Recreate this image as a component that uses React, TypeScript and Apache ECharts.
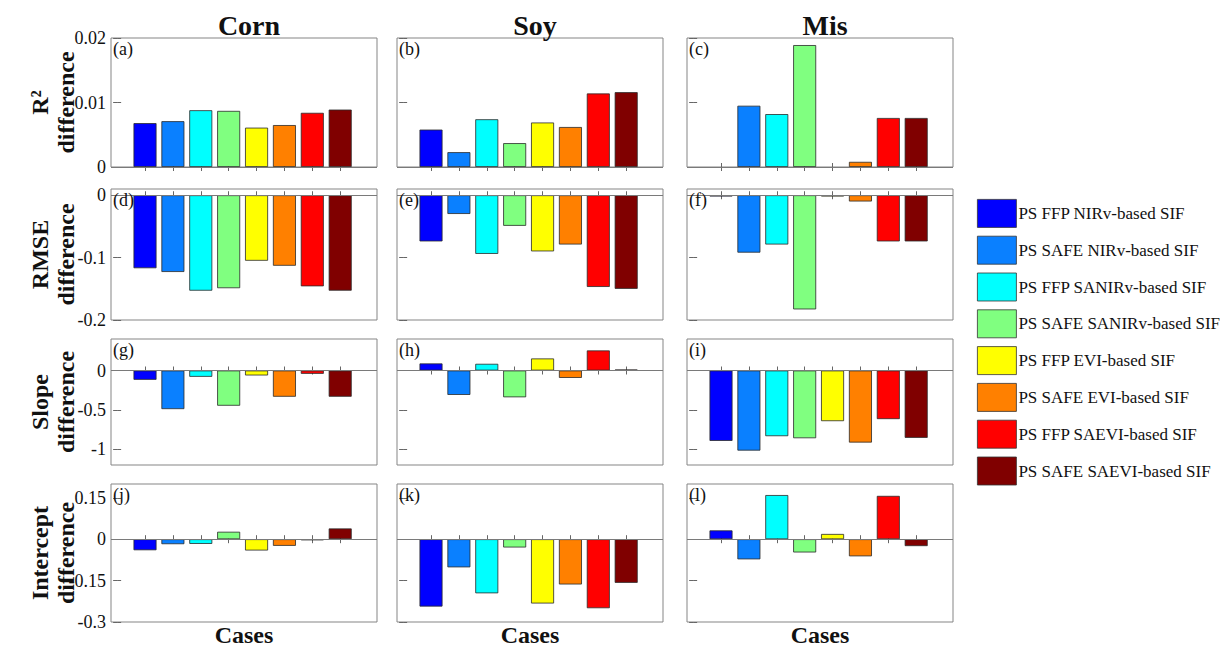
import React, { useEffect, useRef } from 'react';
import * as echarts from 'echarts';

// ---------- data ----------
const CROPS = ['Corn', 'Soy', 'Mis'];
const METRIC_NAMES = ['R²\ndifference', 'RMSE\ndifference', 'Slope\ndifference', 'Intercept\ndifference'];
const CASES = [1, 2, 3, 4, 5, 6, 7, 8];
const CASE_NAMES = [
  'PS FFP NIRv-based SIF',
  'PS SAFE NIRv-based SIF',
  'PS FFP SANIRv-based SIF',
  'PS SAFE SANIRv-based SIF',
  'PS FFP EVI-based SIF',
  'PS SAFE EVI-based SIF',
  'PS FFP SAEVI-based SIF',
  'PS SAFE SAEVI-based SIF',
];
const CASE_COLORS = ['#0000ff', '#0a80ff', '#00ffff', '#80ff80', '#ffff00', '#ff8000', '#ff0000', '#800000'];
const PANEL_LABELS = ['(a)', '(b)', '(c)', '(d)', '(e)', '(f)', '(g)', '(h)', '(i)', '(j)', '(k)', '(l)'];

const R2_CORN = [0.0068, 0.0071, 0.0088, 0.0087, 0.0061, 0.0065, 0.0084, 0.0089];
const R2_SOY = [0.0058, 0.0023, 0.0074, 0.0037, 0.0069, 0.0062, 0.0114, 0.0116];
const R2_MIS = [0, 0.0095, 0.0082, 0.0189, 0, 0.0008, 0.0076, 0.0076];
const RMSE_CORN = [-0.117, -0.123, -0.153, -0.149, -0.105, -0.113, -0.146, -0.153];
const RMSE_SOY = [-0.074, -0.03, -0.094, -0.049, -0.09, -0.079, -0.147, -0.15];
const RMSE_MIS = [-0.002, -0.092, -0.079, -0.183, -0.002, -0.01, -0.074, -0.074];
const SLOPE_CORN = [-0.118, -0.49, -0.08, -0.447, -0.063, -0.333, -0.042, -0.333];
const SLOPE_SOY = [0.09, -0.31, 0.085, -0.34, 0.153, -0.094, 0.255, 0.012];
const SLOPE_MIS = [-0.894, -1.017, -0.834, -0.86, -0.643, -0.915, -0.617, -0.855];
const INT_CORN = [-0.04, -0.018, -0.017, 0.027, -0.041, -0.024, -0.004, 0.039];
const INT_SOY = [-0.244, -0.102, -0.196, -0.03, -0.233, -0.164, -0.25, -0.158];
const INT_MIS = [0.032, -0.073, 0.16, -0.048, 0.019, -0.062, 0.157, -0.025];

const VALUES = [
  [R2_CORN, R2_SOY, R2_MIS],
  [RMSE_CORN, RMSE_SOY, RMSE_MIS],
  [SLOPE_CORN, SLOPE_SOY, SLOPE_MIS],
  [INT_CORN, INT_SOY, INT_MIS],
];

const Y_MIN = [0, -0.2, -1.2, -0.3];
const Y_MAX = [0.02, 0.01, 0.4, 0.2];
const Y_TICKS = [
  [0, 0.01, 0.02],
  [-0.2, -0.1, 0],
  [-1, -0.5, 0],
  [-0.3, -0.15, 0, 0.15],
];
const X_MIN = -0.22;
const X_MAX = 9.32;

// ---------- layout ----------
const COL_LEFT = [111, 397, 687];
const COL_W = 266;
const ROW_TOP = [38, 189, 339, 484];
const ROW_H = [129, 131, 126, 139];
const FONT = '"Liberation Serif", "Times New Roman", serif';
const AX_COLOR = '#858585';
const TXT = '#111';

function buildOption() {
  const grid: any[] = [];
  const xAxis: any[] = [];
  const yAxis: any[] = [];
  const series: any[] = [];
  const graphic: any[] = [];

  for (let r = 0; r < 4; r++) {
    for (let c = 0; c < 3; c++) {
      const g = r * 3 + c;
      grid.push({
        left: COL_LEFT[c],
        top: ROW_TOP[r],
        width: COL_W,
        height: ROW_H[r],
        show: true,
        borderColor: AX_COLOR,
        borderWidth: 1,
        backgroundColor: 'transparent',
      });
      const xTick = { show: true, inside: true, length: 4, customValues: CASES, lineStyle: { color: '#666' } };
      xAxis.push({
        type: 'value', gridIndex: g, position: 'bottom', min: X_MIN, max: X_MAX,
        axisLine: { show: false }, splitLine: { show: false },
        axisTick: xTick, axisLabel: { show: false },
        name: r === 3 ? 'Cases' : '', nameLocation: 'middle', nameGap: 1, nameMoveOverlap: false,
        nameTextStyle: { fontFamily: FONT, fontSize: 24, fontWeight: 'bold', color: TXT, verticalAlign: 'top' },
      });
      xAxis.push({
        type: 'value', gridIndex: g, position: 'top', min: X_MIN, max: X_MAX,
        axisLine: { show: false }, splitLine: { show: false },
        axisTick: xTick, axisLabel: { show: false },
      });
      const yTick = { show: true, inside: true, length: 4, customValues: Y_TICKS[r], lineStyle: { color: '#666' } };
      yAxis.push({
        type: 'value', gridIndex: g, position: 'left', min: Y_MIN[r], max: Y_MAX[r],
        axisLine: { show: false }, splitLine: { show: false },
        axisTick: yTick,
        axisLabel: {
          show: c === 0, customValues: Y_TICKS[r], margin: 5,
          fontFamily: FONT, fontSize: 18, color: TXT,
          formatter: (v: number) => String(Math.round(v * 1000) / 1000),
        },
        name: c === 0 ? METRIC_NAMES[r] : '', nameLocation: 'middle', nameRotate: 90, nameGap: 32,
        nameMoveOverlap: false,
        nameTextStyle: { fontFamily: FONT, fontSize: 24, fontWeight: 'bold', color: TXT, lineHeight: 26 },
      });
      yAxis.push({
        type: 'value', gridIndex: g, position: 'right', min: Y_MIN[r], max: Y_MAX[r],
        axisLine: { show: false }, splitLine: { show: false },
        axisTick: yTick, axisLabel: { show: false },
      });
      const vals = VALUES[r][c];
      for (let i = 0; i < CASES.length; i++) {
        const v = vals[i];
        const s: any = {
          type: 'bar',
          name: CASE_NAMES[i],
          xAxisIndex: 2 * g,
          yAxisIndex: 2 * g,
          stack: 'p' + g,
          barWidth: 23,
          data: [{ value: [CASES[i], v], itemStyle: v === 0 ? { borderWidth: 0 } : undefined }],
          itemStyle: { color: CASE_COLORS[i], borderColor: '#2a2a2a', borderWidth: 0.8 },
          emphasis: { disabled: true },
        };
        if (i === 0) {
          s.markLine = {
            silent: true, symbol: 'none', animation: false,
            label: { show: false },
            lineStyle: { color: '#7a7a7a', type: 'solid', width: 1.2 },
            data: [{ yAxis: 0 }],
          };
        }
        series.push(s);
      }
      graphic.push({
        type: 'text',
        left: COL_LEFT[c] + 2,
        top: ROW_TOP[r] + 2,
        z: 10,
        style: { text: PANEL_LABELS[g], font: `18px ${FONT}`, fill: TXT },
      });
    }
  }

  const title = CROPS.map((name, c) => ({
    text: name,
    left: COL_LEFT[c] + COL_W / 2,
    top: 6,
    textAlign: 'center',
    textStyle: { fontFamily: FONT, fontSize: 28, fontWeight: 'bold', color: TXT },
  }));

  return {
    animation: false,
    backgroundColor: '#ffffff',
    title,
    grid,
    xAxis,
    yAxis,
    series,
    graphic,
    legend: {
      orient: 'vertical',
      left: 972,
      top: 194,
      itemWidth: 39,
      itemHeight: 28,
      itemGap: 8,
      icon: 'rect',
      data: CASE_NAMES,
      selectedMode: false,
      itemStyle: { borderColor: '#333', borderWidth: 0.8 },
      textStyle: { fontFamily: FONT, fontSize: 17, color: TXT, padding: [0, 0, 0, -3] },
    },
  };
}

export default function App() {
  const ref = useRef<HTMLDivElement>(null);
  useEffect(() => {
    if (!ref.current) return;
    const chart = echarts.init(ref.current, null, { renderer: 'svg' });
    chart.setOption(buildOption() as any);
    return () => chart.dispose();
  }, []);
  return (
    <div
      ref={ref}
      style={{ position: 'fixed', left: 0, top: 0, width: 1231, height: 648, background: '#fff' }}
    />
  );
}
